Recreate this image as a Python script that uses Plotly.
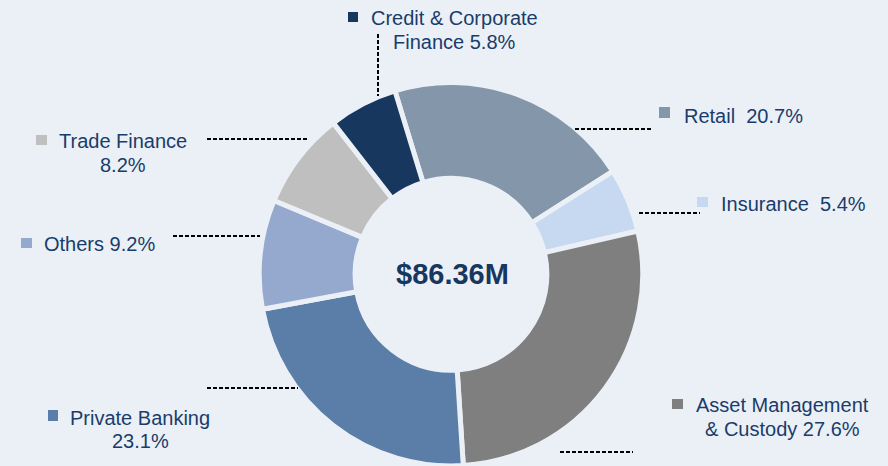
import plotly.graph_objects as go

# ---- data ----
segments = ["Retail", "Insurance", "Asset Management & Custody", "Private Banking",
            "Others", "Trade Finance", "Credit & Corporate Finance"]
shares = [20.7, 5.4, 27.6, 23.1, 9.2, 8.2, 5.8]
total_label = "$86.36M"
label_lines = [
    ["Retail  20.7%"],
    ["Insurance  5.4%"],
    ["Asset Management", "& Custody 27.6%"],
    ["Private Banking", "23.1%"],
    ["Others 9.2%"],
    ["Trade Finance", "8.2%"],
    ["Credit & Corporate", "Finance 5.8%"],
]

# ---- styling ----
colors = ["#8496A9", "#C6D9F1", "#7F7F7F", "#5A7EA8", "#95A9CF", "#BFBFBF", "#17375E"]
BG = "#EBF0F7"
TXT = "#1A3C6A"
W, H = 888, 466

def px(x):
    return x / W

def py(y):
    return 1 - y / H

# layout of callouts (pixel positions in the page)
callouts = [
    dict(sq=(659, 107, 670, 118), tx=682, anchor="left", ty=[116], ld=(575, 129, 652, 129)),
    dict(sq=(697, 197, 708, 207), tx=719, anchor="left", ty=[204], ld=(639, 213, 700, 213)),
    dict(sq=(672, 399, 683, 409), tx=782, anchor="center", ty=[405, 429], ld=(560, 452, 633, 452)),
    dict(sq=(48, 410, 58, 421), tx=140, anchor="center", ty=[418, 441], ld=(207, 388, 298, 388)),
    dict(sq=(21, 238, 32, 248), tx=42, anchor="left", ty=[244], ld=(173, 236, 260, 236)),
    dict(sq=(36, 135, 47, 145), tx=123, anchor="center", ty=[141, 165], ld=(207, 139, 308, 139)),
    dict(sq=(348, 12, 358, 22), tx=454, anchor="center", ty=[18, 42], ld=(378, 34, 378, 96)),
]

cx, cy, r = 451, 274.5, 192
fig = go.Figure(go.Pie(
    labels=segments,
    values=shares,
    sort=False,
    direction="clockwise",
    rotation=-17,
    hole=0.5,
    textinfo="none",
    hoverinfo="label+percent",
    marker=dict(colors=colors, line=dict(color=BG, width=5)),
    domain=dict(x=[px(cx - r), px(cx + r)], y=[max(0, py(cy + r)), py(cy - r)]),
    showlegend=False,
))

annotations = [dict(
    x=px(cx + 2), y=py(cy - 1), xref="paper", yref="paper", text="<b>" + total_label + "</b>",
    showarrow=False, font=dict(family="Liberation Sans, Arial, sans-serif", size=29, color="#17375E"),
    xanchor="center", yanchor="middle",
)]
shapes = []
for i, c in enumerate(callouts):
    x0, y0, x1, y1 = c["sq"]
    shapes.append(dict(type="rect", xref="paper", yref="paper",
                       x0=px(x0), x1=px(x1), y0=py(y1), y1=py(y0),
                       fillcolor=colors[i], line=dict(width=0)))
    lx0, ly0, lx1, ly1 = c["ld"]
    shapes.append(dict(type="line", xref="paper", yref="paper",
                       x0=px(lx0), x1=px(lx1), y0=py(ly0), y1=py(ly1),
                       line=dict(color="#000000", width=2, dash="4px,2px")))
    for line_text, yy in zip(label_lines[i], c["ty"]):
        annotations.append(dict(
            x=px(c["tx"]), y=py(yy), xref="paper", yref="paper", text=line_text,
            showarrow=False, xanchor=c["anchor"], yanchor="middle",
            font=dict(family="Liberation Sans, Arial, sans-serif", size=20, color=TXT),
        ))

fig.update_layout(
    width=W, height=H,
    margin=dict(l=0, r=0, t=0, b=0),
    paper_bgcolor=BG, plot_bgcolor=BG,
    annotations=annotations, shapes=shapes,
)

fig.write_html(
    "out.html",
    config={"displayModeBar": False},
    post_script="document.body.style.margin='0';document.body.style.padding='0';"
                "document.body.style.background='" + BG + "';document.body.style.overflow='hidden';",
)
